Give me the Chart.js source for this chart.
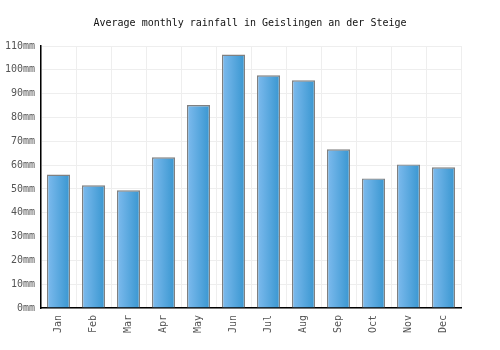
<!DOCTYPE html>
<html><head><meta charset="utf-8">
<script src="https://cdn.jsdelivr.net/npm/chart.js@4/dist/chart.umd.min.js"></script>
<style>html,body{margin:0;padding:0;background:#fff}#wrap{width:500px;height:350px}</style>
</head><body><div id="wrap"><canvas id="c" width="500" height="350"></canvas></div>
<script>
const months = ["Jan","Feb","Mar","Apr","May","Jun","Jul","Aug","Sep","Oct","Nov","Dec"];
const rainfall = [56, 51.5, 49.4, 63.3, 85.2, 106.4, 97.7, 95.6, 66.6, 54.4, 60.3, 59.1];
const titleText = "Average monthly rainfall in Geislingen an der Steige";
const unit = "mm";

const FONT = "'DejaVu Sans Mono', monospace";

function barGradient(ctx) {
  const chart = ctx.chart;
  const xs = chart.scales && chart.scales.x;
  if (!xs || ctx.dataIndex === undefined) return '#5aa8e0';
  const cx = xs.getPixelForValue(ctx.dataIndex);
  if (!isFinite(cx)) return '#5aa8e0';
  const w = 23;
  const g = chart.ctx.createLinearGradient(cx - w / 2, 0, cx + w / 2, 0);
  g.addColorStop(0, '#7ebbee');
  g.addColorStop(1, '#3896d0');
  return g;
}

const chart = new Chart(document.getElementById('c'), {
  type: 'bar',
  data: {
    labels: months,
    datasets: [{
      data: rainfall,
      backgroundColor: barGradient,
      borderColor: '#808080',
      borderWidth: 1.4,
      categoryPercentage: 0.66,
      barPercentage: 1.0
    }]
  },
  options: {
    responsive: false,
    animation: false,
    devicePixelRatio: 1,
    layout: { padding: 0 },
    plugins: {
      legend: { display: false },
      tooltip: { enabled: false },
      title: {
        display: true,
        text: titleText,
        color: '#111',
        font: { family: FONT, size: 10, weight: 'normal' },
        padding: { top: 17, bottom: 17 }
      }
    },
    scales: {
      x: {
        grid: { color: '#eeeeee', lineWidth: 1, drawTicks: false, offset: true },
        border: { color: '#000', width: 1.5 },
        ticks: { color: '#555', font: { family: FONT, size: 10 }, maxRotation: 90, minRotation: 90, padding: 7 },
        afterFit: s => { s.height = 42; }
      },
      y: {
        min: 0, max: 110,
        grid: { color: '#eeeeee', lineWidth: 1, drawTicks: false },
        border: { color: '#000', width: 1.5 },
        ticks: { stepSize: 10, color: '#555', font: { family: FONT, size: 10 }, padding: 6,
          callback: v => v + unit },
        afterFit: s => { s.width = 41; }
      },
      yRight: {
        position: 'right',
        display: true,
        min: 0, max: 110,
        grid: { display: false, drawOnChartArea: false, drawTicks: false },
        border: { display: false },
        ticks: { display: false },
        afterFit: s => { s.width = 39; }
      }
    }
  }
});
chart.update();
</script>
</body></html>
